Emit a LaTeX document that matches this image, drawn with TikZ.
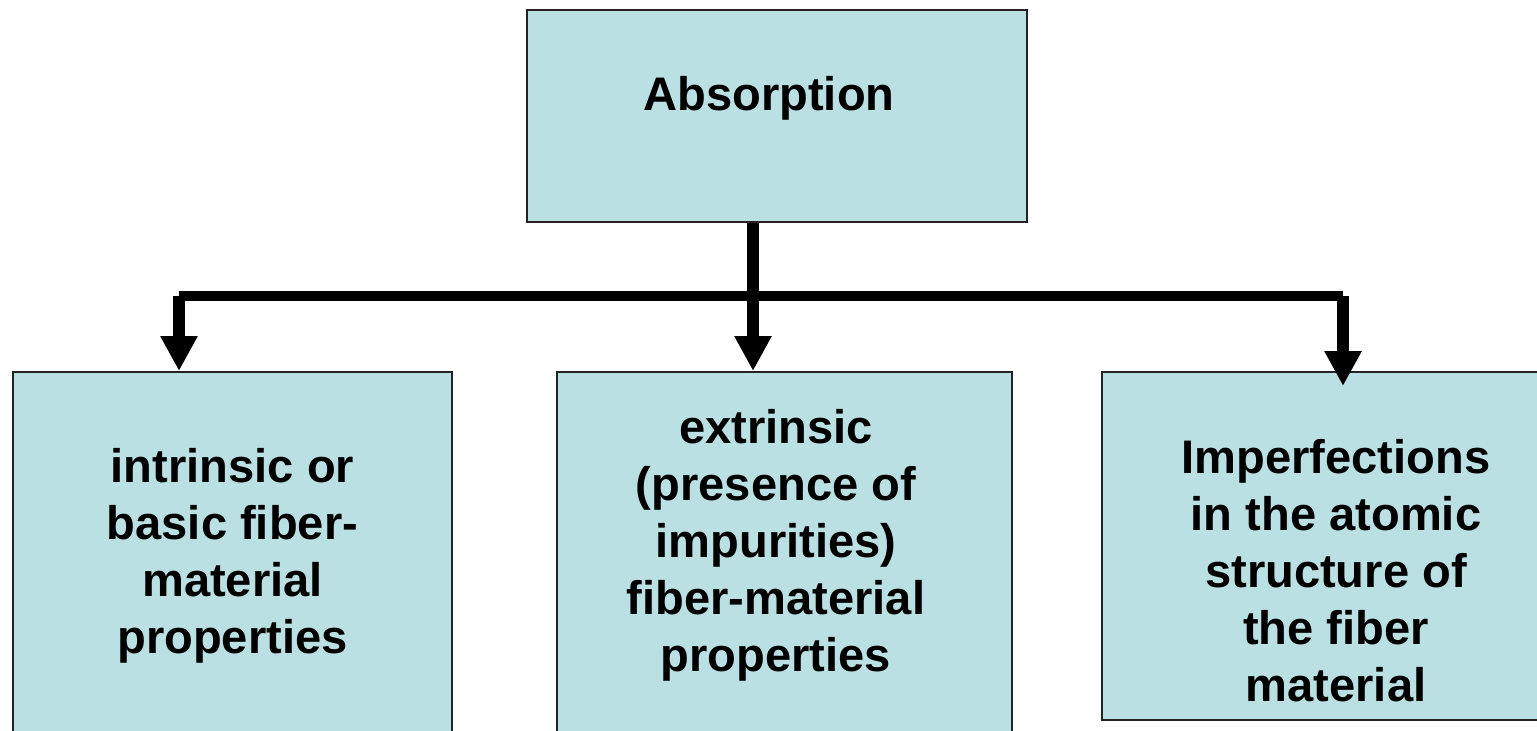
\documentclass[tikz,border=0pt]{standalone}
\usepackage{fontspec}
\setmainfont{Liberation Sans}
\usetikzlibrary{arrows.meta,positioning}
\definecolor{boxfill}{RGB}{187,224,227}
\definecolor{boxline}{RGB}{35,35,35}

\begin{document}
\begin{tikzpicture}[
  boite/.style={draw=boxline, line width=0.55pt, fill=boxfill, inner sep=0pt, anchor=north west},
  texte/.style={align=center, inner sep=0pt, font=\fontsize{13.4}{16.2}\selectfont\bfseries},
  fleche/.style={line width=3.4pt, -{Triangle[length=0.35cm,width=0.35cm]}},
  barre/.style={line width=2.6pt}
]
  \useasboundingbox (0,0) rectangle (15.37,7.3);

  %--- Données ---
  \def\ybus{4.34}    % barre horizontale
  \def\ybas{3.59}    % haut des boîtes du bas

  %--- Boîtes ---
  \node[boite, minimum width=5cm, minimum height=2.12cm] (absorb) at (5.26,7.21) {};
  \node[boite, minimum width=4.39cm, minimum height=4cm] (intr) at (0.12,\ybas) {};
  \node[boite, minimum width=4.55cm, minimum height=4cm] (extr) at (5.56,\ybas) {};
  \node[boite, minimum width=4.68cm, minimum height=3.48cm] (imperf) at (11.01,\ybas) {};

  %--- Textes ---
  \node[texte, below=0.67cm of absorb.north, xshift=-0.08cm] (absorbtxt) {Absorption};
  \node[texte, below=0.77cm of intr.north] (intrtxt)
    {intrinsic or\\basic fiber-\\material\\properties};
  \node[texte, below=0.38cm of extr.north, xshift=-0.085cm] (extrtxt)
    {extrinsic\\(presence of\\impurities)\\fiber-material\\properties};
  \node[texte, below=0.68cm of imperf.north] (imperftxt)
    {Imperfections\\in the atomic\\structure of\\the fiber\\material};

  %--- Points ---
  \coordinate (split) at (7.53,\ybus);  % tronc
  \coordinate (lbus) at (1.79,\ybus);   % coin gauche
  \coordinate (rbus) at (13.43,\ybus);  % coin droit
  \coordinate (rtip) at (13.43,3.44);   % pointe droite

  %--- Flèches ---
  \draw[barre] (lbus) -- (rbus);
  \draw[fleche] (absorb.south -| split) -- (split |- extr.north);
  \draw[fleche] (lbus) -- (lbus |- intr.north);
  \draw[fleche] (rbus) -- (rtip);

\end{tikzpicture}
\end{document}
